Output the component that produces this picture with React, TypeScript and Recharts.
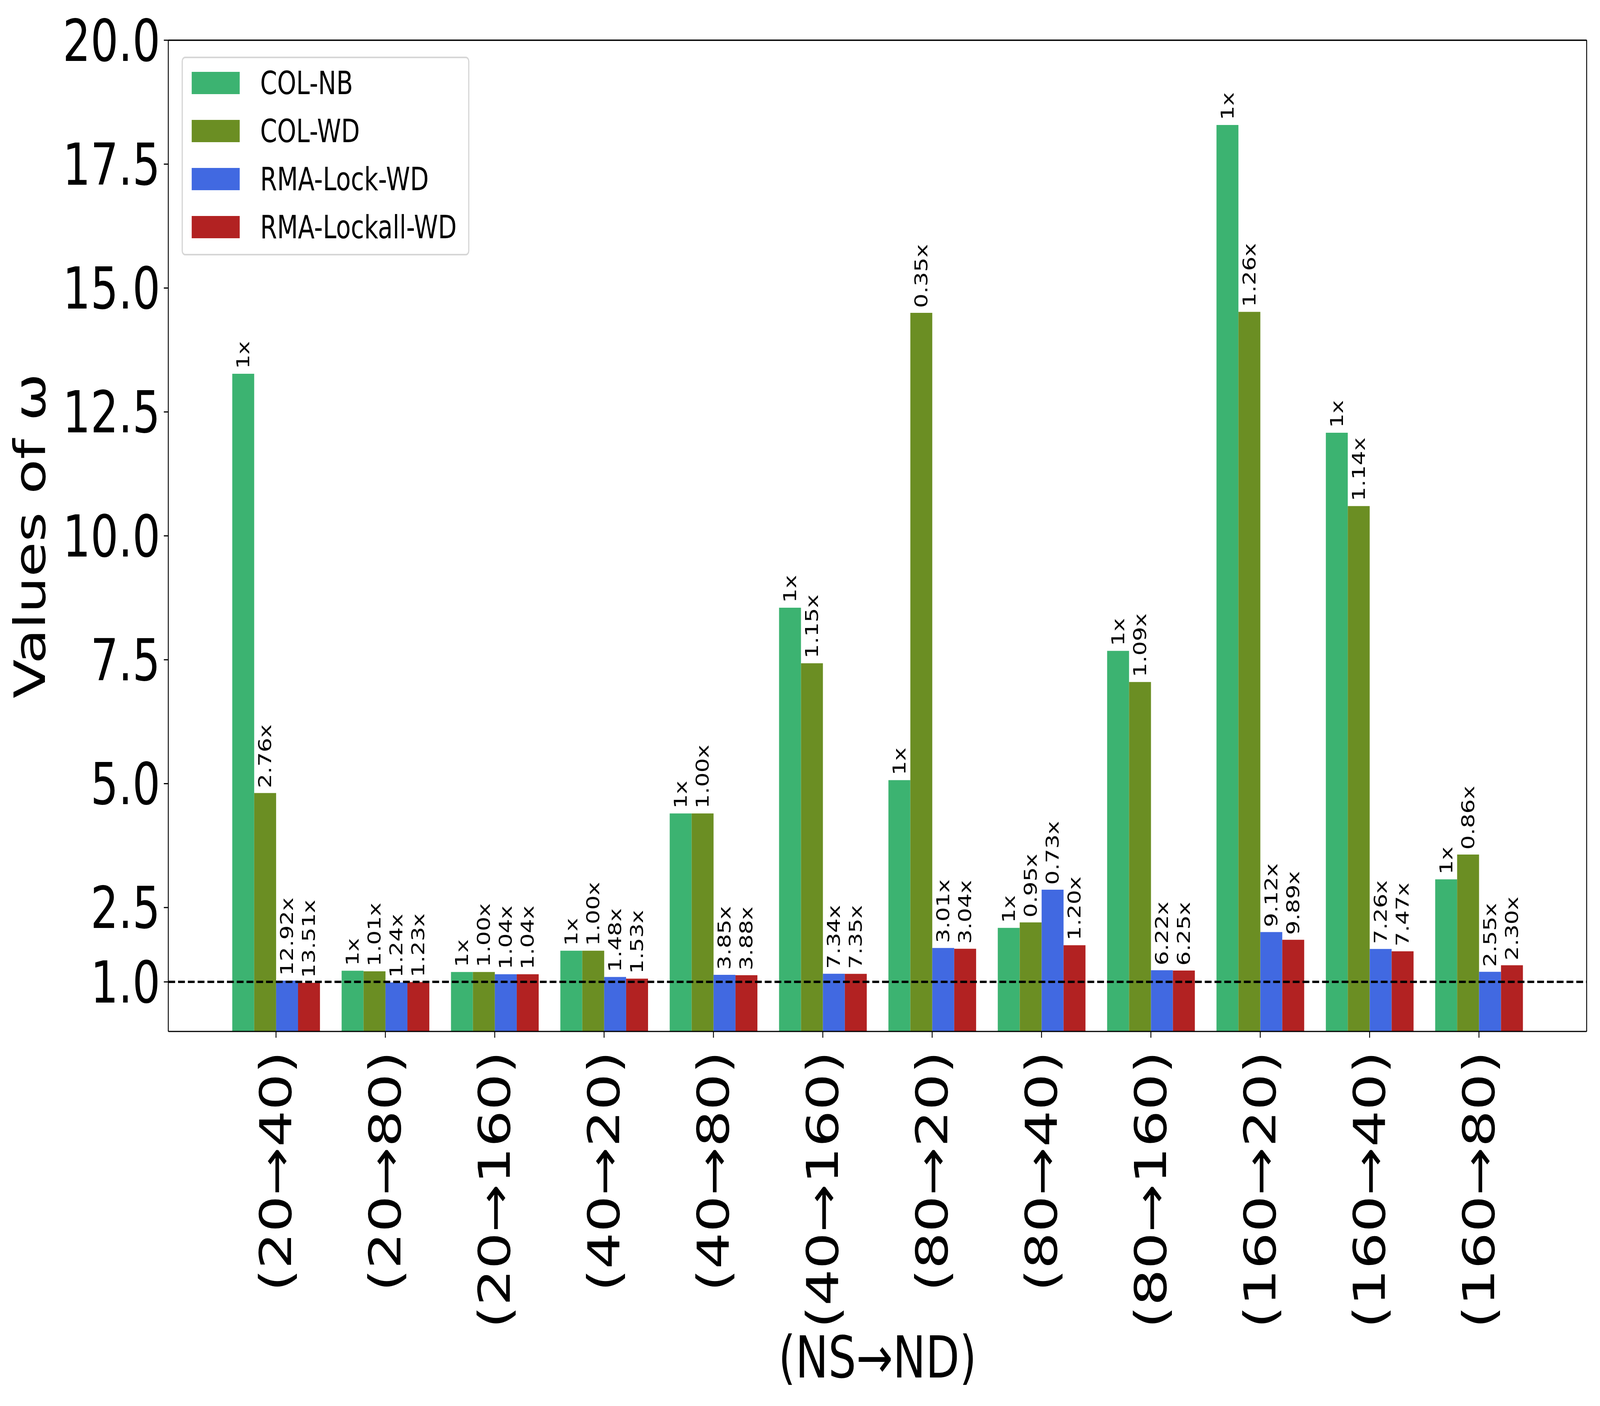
import React from "react";
import {
  Bar,
  BarChart,
  CartesianGrid,
  Label,
  LabelList,
  ReferenceLine,
  XAxis,
  YAxis,
} from "recharts";

const categories = [
  "(20→40)",
  "(20→80)",
  "(20→160)",
  "(40→20)",
  "(40→80)",
  "(40→160)",
  "(80→20)",
  "(80→40)",
  "(80→160)",
  "(160→20)",
  "(160→40)",
  "(160→80)",
];

const colNB = [13.27, 1.225, 1.2, 1.63, 4.4, 8.55, 5.07, 2.09, 7.68, 18.29, 12.08, 3.07];
const colWD = [4.81, 1.213, 1.2, 1.63, 4.4, 7.43, 14.5, 2.2, 7.05, 14.52, 10.6, 3.57];
const rmaLock = [1.027, 0.988, 1.154, 1.1, 1.143, 1.165, 1.684, 2.86, 1.235, 2.006, 1.664, 1.204];
const rmaLockall = [0.982, 0.996, 1.154, 1.065, 1.134, 1.163, 1.668, 1.74, 1.229, 1.849, 1.617, 1.335];

const nbLabels = ["1x", "1x", "1x", "1x", "1x", "1x", "1x", "1x", "1x", "1x", "1x", "1x"];
const wdLabels = ["2.76x", "1.01x", "1.00x", "1.00x", "1.00x", "1.15x", "0.35x", "0.95x", "1.09x", "1.26x", "1.14x", "0.86x"];
const lockLabels = ["12.92x", "1.24x", "1.04x", "1.48x", "3.85x", "7.34x", "3.01x", "0.73x", "6.22x", "9.12x", "7.26x", "2.55x"];
const lockallLabels = ["13.51x", "1.23x", "1.04x", "1.53x", "3.88x", "7.35x", "3.04x", "1.20x", "6.25x", "9.89x", "7.47x", "2.30x"];

const yTicks = [1, 2.5, 5, 7.5, 10, 12.5, 15, 17.5, 20];

const series = [
  { key: "nb", label: "nbLabel", name: "COL-NB", color: "#3CB371" },
  { key: "wd", label: "wdLabel", name: "COL-WD", color: "#6B8E23" },
  { key: "lock", label: "lockLabel", name: "RMA-Lock-WD", color: "#4169E1" },
  { key: "lockall", label: "lockallLabel", name: "RMA-Lockall-WD", color: "#B22222" },
];

const data = categories.map((name, i) => ({
  name,
  nb: colNB[i],
  wd: colWD[i],
  lock: rmaLock[i],
  lockall: rmaLockall[i],
  nbLabel: nbLabels[i],
  wdLabel: wdLabels[i],
  lockLabel: lockLabels[i],
  lockallLabel: lockallLabels[i],
}));

const FONT = "DejaVu Sans, sans-serif";

// the browser clamps the window to 4096px wide, so the 5400px figure is squeezed to fit
const W = 5400;
const H = 3600;
const fitX = Math.min(1, window.innerWidth / W);

function BarLabel(props: any) {
  const { x, y, width, value } = props;
  const cx = Number(x) + Number(width) / 2;
  const ty = Number(y) - 12.5;
  return (
    <text
      x={cx}
      y={ty}
      transform={`rotate(-90 ${cx} ${ty})`}
      textAnchor="start"
      dominantBaseline="central"
      fontSize={58}
      fontFamily={FONT}
      fill="#000"
    >
      {value}
    </text>
  );
}

function XTick(props: any) {
  const { x, y, payload } = props;
  return (
    <text
      x={x}
      y={y}
      transform={`rotate(-90 ${x} ${y})`}
      textAnchor="end"
      dominantBaseline="central"
      fontSize={148}
      fontFamily={FONT}
      fill="#000"
    >
      {payload.value}
    </text>
  );
}

export default function App() {
  return (
    <div style={{ width: W * fitX, height: H, marginLeft: -8, marginTop: -8, overflow: "hidden", background: "#fff" }}>
      <div
        style={{
          position: "relative",
          width: W,
          height: H,
          transform: `scale(${fitX}, 1)`,
          transformOrigin: "0 0",
        }}
      >
        <BarChart
          width={W}
          height={H}
          data={data}
          margin={{ top: 103, right: 45, left: 20, bottom: 20 }}
          barCategoryGap="10%"
          barGap={0}
        >
          {/* top and right spines */}
          <CartesianGrid
            stroke="#000"
            strokeWidth={3}
            strokeDasharray="0"
            horizontalCoordinatesGenerator={({ offset }: any) => [offset.top]}
            verticalCoordinatesGenerator={({ offset }: any) => [offset.left + offset.width]}
          />
          <XAxis
            dataKey="name"
            interval={0}
            padding={{ left: 179, right: 179 }}
            height={939}
            tickSize={16}
            tickMargin={34}
            tick={<XTick />}
            tickLine={{ stroke: "#000", strokeWidth: 3 }}
            axisLine={{ stroke: "#000", strokeWidth: 3 }}
          >
            <Label
              content={(p: any) => {
                const vb = p.viewBox;
                return (
                  <text
                    x={vb.x + vb.width / 2}
                    y={vb.y + 835}
                    textAnchor="middle"
                    dominantBaseline="central"
                    fontSize={148}
                    fontFamily={FONT}
                    fill="#000"
                  >
                    (NS→ND)
                  </text>
                );
              }}
            />
          </XAxis>
          <YAxis
            type="number"
            domain={[0, 20]}
            ticks={yTicks}
            interval={0}
            width={548}
            tickSize={15}
            tickMargin={12}
            tickFormatter={(v: number) => v.toFixed(1)}
            tick={{ fontSize: 148, fontFamily: FONT, fill: "#000" }}
            tickLine={{ stroke: "#000", strokeWidth: 3 }}
            axisLine={{ stroke: "#000", strokeWidth: 3 }}
          >
            <Label
              content={(p: any) => {
                const vb = p.viewBox;
                const lx = vb.x + 81;
                const ly = vb.y + vb.height / 2;
                return (
                  <text
                    x={lx}
                    y={ly}
                    transform={`rotate(-90 ${lx} ${ly})`}
                    textAnchor="middle"
                    dominantBaseline="central"
                    fontSize={146}
                    fontFamily={FONT}
                    fill="#000"
                  >
                    Values of ω
                  </text>
                );
              }}
            />
          </YAxis>
          <YAxis
            yAxisId="frame"
            orientation="right"
            type="number"
            domain={[0, 20]}
            width={0}
            tick={false}
            tickLine={false}
            axisLine={{ stroke: "#000", strokeWidth: 3 }}
          />
          <ReferenceLine y={20} stroke="#000" strokeWidth={3} />
          {series.map((s) => (
            <Bar key={s.key} dataKey={s.key} name={s.name} fill={s.color} isAnimationActive={false}>
              <LabelList dataKey={s.label} content={<BarLabel />} />
            </Bar>
          ))}
          <ReferenceLine y={1} stroke="#000" strokeWidth={6} strokeDasharray="23 10" />
        </BarChart>
        <div
          style={{
            position: "absolute",
            left: 613,
            top: 145,
            width: 971,
            height: 509,
            boxSizing: "border-box",
            border: "4px solid #d6d6d6",
            borderRadius: 12,
            background: "rgba(255,255,255,0.8)",
            paddingTop: 2,
            fontFamily: FONT,
            fontSize: 82,
          }}
        >
          {series.map((s) => (
            <div key={s.key} style={{ display: "flex", alignItems: "center", height: 123 }}>
              <div style={{ width: 162, height: 57, marginLeft: 30, background: s.color }} />
              <div style={{ marginLeft: 69, color: "#000", lineHeight: 1 }}>{s.name}</div>
            </div>
          ))}
        </div>
      </div>
    </div>
  );
}
